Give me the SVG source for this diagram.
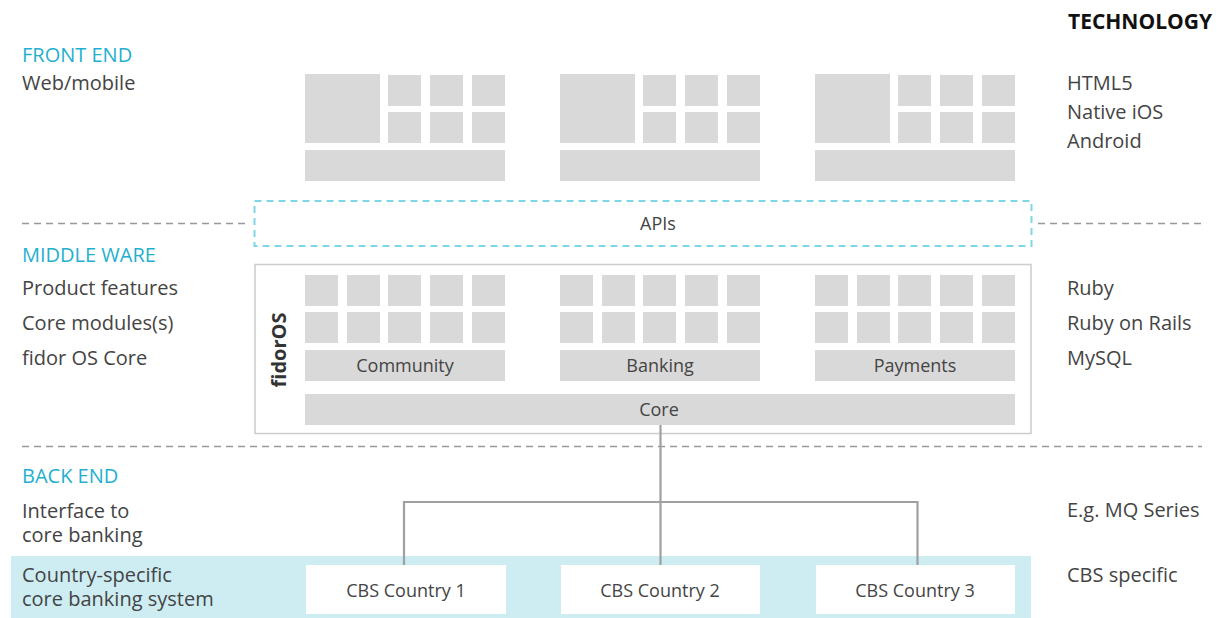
<svg xmlns="http://www.w3.org/2000/svg" width="1222" height="618" viewBox="0 0 1222 618">
<style>
text{font-family:"Open Sans","Liberation Sans",sans-serif;fill:#444}
.t{font-size:20px}
.h{font-size:20px;fill:#1fb0cf}
.l{font-size:18px;text-anchor:middle}
.g{fill:#d9d9d9}
.sep{stroke:#999;stroke-width:1.3;stroke-dasharray:7 5;fill:none}
.con{stroke:#a0a0a0;stroke-width:2.2;fill:none}
</style>
<defs>
<g id="fe">
<rect class="g" x="0" y="74" width="75" height="69"/>
<rect class="g" x="83" y="75" width="33" height="31"/><rect class="g" x="125" y="75" width="33" height="31"/><rect class="g" x="167" y="75" width="33" height="31"/>
<rect class="g" x="83" y="112" width="33" height="31"/><rect class="g" x="125" y="112" width="33" height="31"/><rect class="g" x="167" y="112" width="33" height="31"/>
<rect class="g" x="0" y="150" width="200" height="31"/>
</g>
<g id="mw">
<rect class="g" x="0" y="275" width="33" height="31"/><rect class="g" x="42" y="275" width="33" height="31"/><rect class="g" x="83" y="275" width="33" height="31"/><rect class="g" x="125" y="275" width="33" height="31"/><rect class="g" x="167" y="275" width="33" height="31"/>
<rect class="g" x="0" y="312" width="33" height="31"/><rect class="g" x="42" y="312" width="33" height="31"/><rect class="g" x="83" y="312" width="33" height="31"/><rect class="g" x="125" y="312" width="33" height="31"/><rect class="g" x="167" y="312" width="33" height="31"/>
<rect class="g" x="0" y="350" width="200" height="31"/>
</g>
</defs>
<g id="layers">
<path class="sep" d="M22 223.5H250M1038 223.5H1202M22 446.5H1202"/>
<rect x="11" y="556" width="1020" height="62" fill="#cdedf3"/>
</g>
<g id="left-labels">
<text class="h" x="22" y="62">FRONT END</text>
<text class="t" x="22" y="90">Web/mobile</text>
<text class="h" x="22" y="262">MIDDLE WARE</text>
<text class="t" x="22" y="295">Product features</text>
<text class="t" x="22" y="330">Core modules(s)</text>
<text class="t" x="22" y="365">fidor OS Core</text>
<text class="h" x="22" y="483">BACK END</text>
<text class="t" x="22" y="518">Interface to</text>
<text class="t" x="22" y="542">core banking</text>
<text class="t" x="22" y="582">Country-specific</text>
<text class="t" x="22" y="606">core banking system</text>
</g>
<g id="tech-labels">
<text x="1068" y="29" style="font-size:21px;font-weight:bold;fill:#111">TECHNOLOGY</text>
<text class="t" x="1067" y="90">HTML5</text>
<text class="t" x="1067" y="119">Native iOS</text>
<text class="t" x="1067" y="148">Android</text>
<text class="t" x="1067" y="295">Ruby</text>
<text class="t" x="1067" y="330">Ruby on Rails</text>
<text class="t" x="1067" y="365">MySQL</text>
<text class="t" x="1067" y="517">E.g. MQ Series</text>
<text class="t" x="1067" y="582">CBS specific</text>
</g>
<g id="frontend">
<use href="#fe" x="305"/>
<use href="#fe" x="560"/>
<use href="#fe" x="815"/>
</g>
<g id="apis">
<rect x="254.5" y="201" width="777" height="45" fill="none" stroke="#80d5e6" stroke-width="2" stroke-dasharray="7 5"/>
<text class="l" x="658" y="230">APIs</text>
</g>
<g id="fidoros">
<rect x="255" y="264.5" width="776" height="169" fill="#fff" stroke="#ccc" stroke-width="1.5"/>
<text transform="translate(286,350) rotate(-90)" text-anchor="middle" style="font-size:20px;font-weight:bold;fill:#333">fidorOS</text>
</g>
<g id="community">
<use href="#mw" x="305"/>
<text class="l" x="405" y="372">Community</text>
</g>
<g id="banking">
<use href="#mw" x="560"/>
<text class="l" x="660" y="372">Banking</text>
</g>
<g id="payments">
<use href="#mw" x="815"/>
<text class="l" x="915" y="372">Payments</text>
</g>
<g id="core">
<rect class="g" x="305" y="394" width="710" height="31"/>
<text class="l" x="659" y="416">Core</text>
</g>
<g id="connectors">
<path class="con" d="M660.5 425V565M404 565V502H917.5V565"/>
</g>
<g id="cbs1">
<rect x="306" y="565" width="200" height="49" fill="#fff"/>
<text class="l" x="406" y="597">CBS Country 1</text>
</g>
<g id="cbs2">
<rect x="561" y="565" width="199" height="49" fill="#fff"/>
<text class="l" x="660" y="597">CBS Country 2</text>
</g>
<g id="cbs3">
<rect x="816" y="565" width="199" height="49" fill="#fff"/>
<text class="l" x="915" y="597">CBS Country 3</text>
</g>
</svg>
